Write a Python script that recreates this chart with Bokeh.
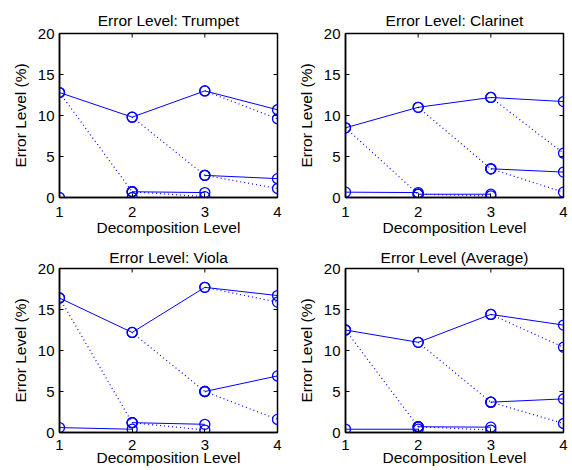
import math
from bokeh.plotting import figure
from bokeh.layouts import gridplot
from bokeh.models import FixedTicker
from bokeh.embed import file_html
from bokeh.resources import INLINE

levels = [1, 2, 3, 4]
x_ticks = [1, 2, 3, 4]
y_ticks = [0, 5, 10, 15, 20]

titles = ["Error Level: Trumpet", "Error Level: Clarinet",
          "Error Level: Viola", "Error Level (Average)"]
x_label = "Decomposition Level"
y_label = "Error Level (%)"

# solid top path over levels 1..4
trumpet_main = [12.8, 9.8, 13.0, 10.7]
clarinet_main = [8.5, 11.0, 12.2, 11.7]
viola_main = [16.4, 12.2, 17.7, 16.7]
average_main = [12.5, 11.0, 14.4, 13.1]

# dotted child at level k+1 of main node at level k (k = 1..3)
trumpet_drop = [0.7, 2.7, 9.6]
clarinet_drop = [0.4, 3.5, 5.4]
viola_drop = [1.2, 5.0, 15.9]
average_drop = [0.7, 3.7, 10.4]

# solid continuation from drop nodes (level 2 -> 3, level 3 -> 4)
trumpet_sub = [0.6, 2.3]
clarinet_sub = [0.4, 3.1]
viola_sub = [1.0, 6.9]
average_sub = [0.65, 4.1]

# dotted continuation from drop nodes (level 2 -> 3, level 3 -> 4)
trumpet_subdrop = [0.1, 1.1]
clarinet_subdrop = [0.2, 0.65]
viola_subdrop = [0.3, 1.6]
average_subdrop = [0.3, 1.1]

# solid base path, level 1 -> 2
trumpet_base = [0.0, 0.0]
clarinet_base = [0.65, 0.6]
viola_base = [0.6, 0.4]
average_base = [0.4, 0.4]

panels = [
    (trumpet_main, trumpet_drop, trumpet_sub, trumpet_subdrop, trumpet_base),
    (clarinet_main, clarinet_drop, clarinet_sub, clarinet_subdrop, clarinet_base),
    (viola_main, viola_drop, viola_sub, viola_subdrop, viola_base),
    (average_main, average_drop, average_sub, average_subdrop, average_base),
]

FONT = "Liberation Sans"
BLUE = "#0000FF"
FS = "15px"


def make_panel(title, main, drop, sub, subdrop, base, top_row):
    if top_row:
        h, bt, bb, s1, s2, ts = 242, 33, 45, 9, -1, 10
    else:
        h, bt, bb, s1, s2, ts = 228, 26, 38, 7, -4, 5
    p = figure(width=286, height=h, x_range=(1, 4), y_range=(0, 20),
               output_backend="svg", toolbar_location=None,
               min_border_left=59, min_border_right=9,
               min_border_top=bt, min_border_bottom=bb)
    p.title.text = title
    p.title.align = "center"
    p.title.text_font = FONT
    p.title.text_font_size = "15.5px"
    p.title.text_font_style = "normal"
    p.title.text_color = "black"
    p.title.standoff = ts

    p.xgrid.visible = False
    p.ygrid.visible = False
    p.outline_line_color = "black"
    p.outline_line_width = 1.5
    p.background_fill_color = "white"
    p.border_fill_color = "white"

    for ax, ticks in ((p.xaxis[0], x_ticks), (p.yaxis[0], y_ticks)):
        ax.ticker = FixedTicker(ticks=ticks)
        ax.major_tick_in = 4
        ax.major_tick_out = 0
        ax.minor_tick_in = 0
        ax.minor_tick_out = 0
        ax.axis_line_width = 1.5
        ax.axis_line_color = "black"
        ax.major_tick_line_color = "black"
        ax.major_label_text_font = FONT
        ax.major_label_text_font_size = FS
        ax.major_label_text_color = "black"
        ax.axis_label_text_font = FONT
        ax.axis_label_text_font_size = "15.5px"
        ax.axis_label_text_font_style = "normal"
        ax.axis_label_text_color = "black"

    p.xaxis.axis_label = x_label
    p.yaxis.axis_label = y_label
    p.xaxis.major_label_standoff = s1
    p.xaxis.axis_label_standoff = s2
    p.yaxis.major_label_standoff = 5
    p.yaxis.axis_label_standoff = 6

    # mirrored inward ticks on the right and top edges
    p.ray(x=[4] * len(y_ticks), y=y_ticks, length=4, length_units="screen",
          angle=math.pi, line_color="black", line_width=1)
    p.ray(x=x_ticks, y=[20] * len(x_ticks), length=4, length_units="screen",
          angle=-math.pi / 2, line_color="black", line_width=1)

    # build polylines from the data
    solid_xs = [levels[:], [2, 3], [3, 4], [1, 2]]
    solid_ys = [main[:], [drop[0], sub[0]], [drop[1], sub[1]], base[:]]
    dotted_xs = [[1, 2], [2, 3], [3, 4], [2, 3], [3, 4]]
    dotted_ys = [[main[0], drop[0]], [main[1], drop[1]], [main[2], drop[2]],
                 [drop[0], subdrop[0]], [drop[1], subdrop[1]]]

    p.multi_line(solid_xs, solid_ys, line_color=BLUE, line_width=1)
    p.multi_line(dotted_xs, dotted_ys, line_color=BLUE, line_width=1.2,
                 line_dash="1 3")

    px = []
    py = []
    for xs, ys in zip(solid_xs + dotted_xs, solid_ys + dotted_ys):
        px.extend(xs)
        py.extend(ys)
    p.scatter(px, py, marker="circle", size=10, fill_color=None,
              line_color=BLUE, line_width=1.3)
    return p


plots = [make_panel(t, *d, top_row=(i < 2))
         for i, (t, d) in enumerate(zip(titles, panels))]
grid = gridplot([[plots[0], plots[1]], [plots[2], plots[3]]],
                toolbar_location=None)

open("out.html", "w").write(file_html(grid, INLINE))
